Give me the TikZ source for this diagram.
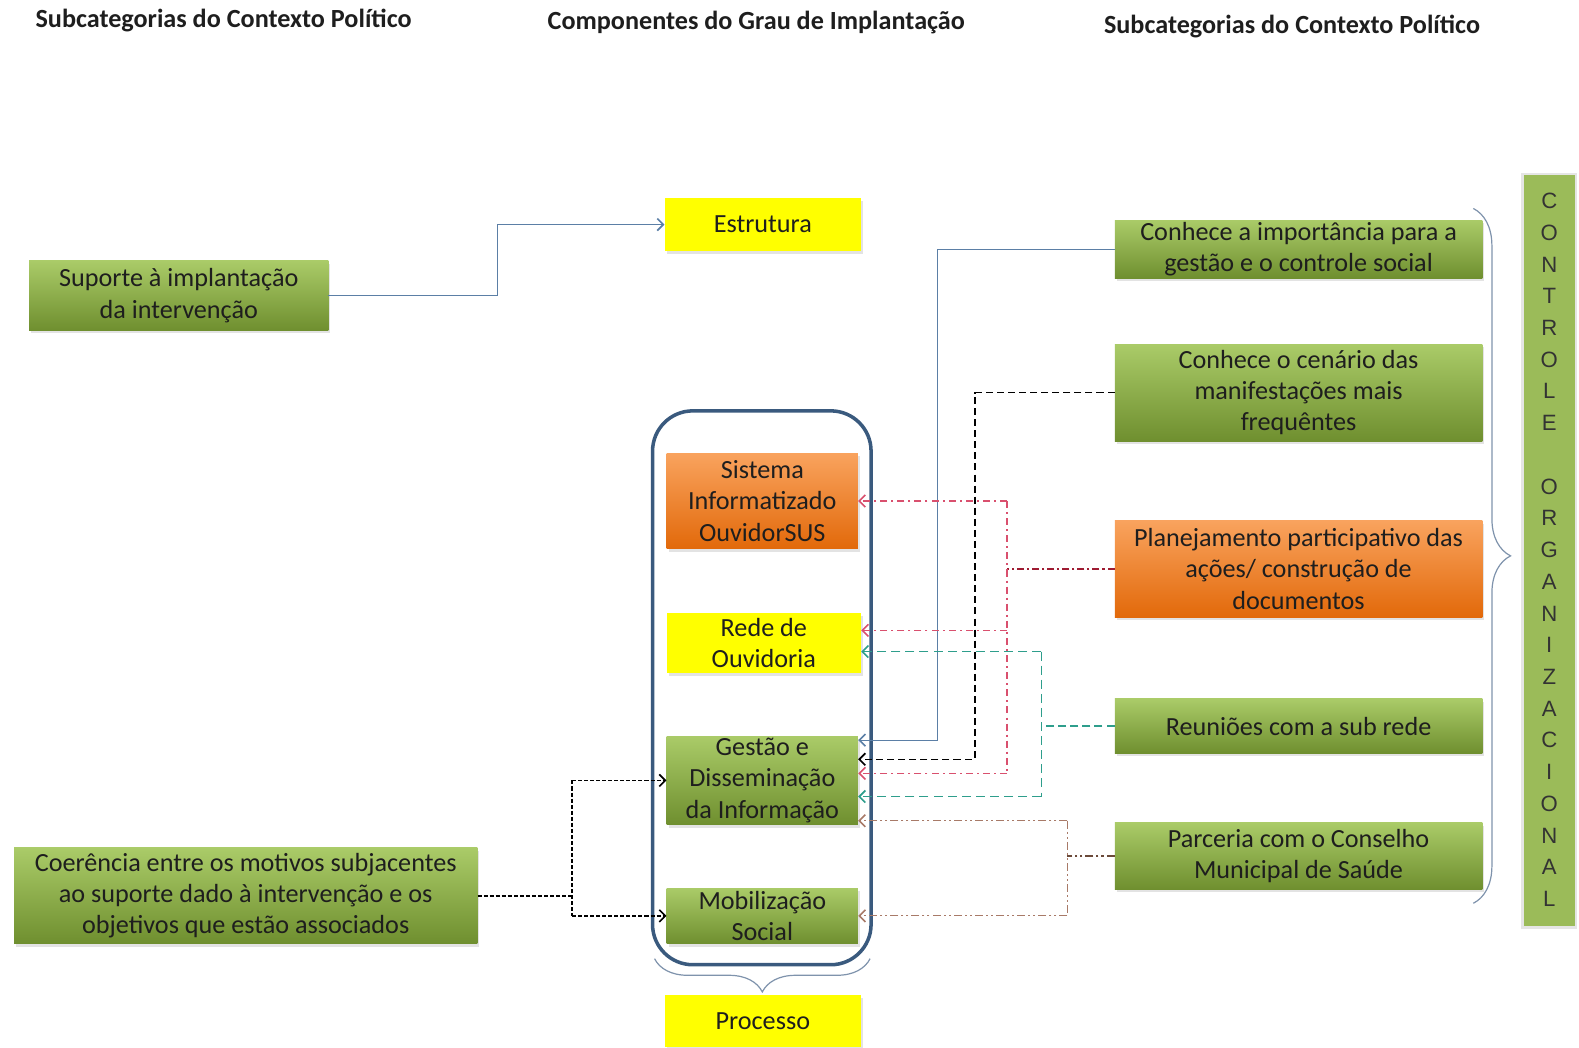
\documentclass[tikz,border=0pt]{standalone}
\usepackage{fontspec}
\setmainfont{Carlito}
\newfontfamily\arialf{Liberation Sans}
\usetikzlibrary{arrows.meta,decorations.pathreplacing,shadows,calc}
\definecolor{gtop}{HTML}{AACB68}
\definecolor{gbot}{HTML}{6F8F2F}
\definecolor{otop}{HTML}{F9A35E}
\definecolor{obot}{HTML}{E2690A}
\definecolor{yel}{HTML}{FFFF00}
\definecolor{txt}{HTML}{1E1E1E}
\definecolor{cont}{HTML}{3A5A7E}
\definecolor{solidc}{HTML}{5B7FA6}
\definecolor{planm}{HTML}{9E1B32}
\definecolor{planb}{HTML}{D9506E}
\definecolor{reunm}{HTML}{2E9E8C}
\definecolor{parcm}{HTML}{6B4A3A}
\definecolor{parcb}{HTML}{A87A68}
\definecolor{bracec}{HTML}{7F93AC}
\definecolor{ctrl}{HTML}{9BBB59}
\begin{document}
\begin{tikzpicture}[x=1pt,y=-1pt,
  box/.style={rectangle, inner sep=2pt, align=center,
    font=\fontsize{26}{31}\selectfont, text=txt,
    drop shadow={opacity=0.22,shadow xshift=2pt,shadow yshift=-3pt}},
  gbox/.style={box, top color=gtop, bottom color=gbot},
  obox/.style={box, top color=otop, bottom color=obot},
  ybox/.style={box, fill=yel, drop shadow={opacity=0}},
  title/.style={font=\bfseries\fontsize{26}{30}\selectfont, text=txt},
  tip/.style={-{Straight Barb[length=6pt,width=12pt,line width=1.6pt]}},
  solidln/.style={draw=solidc, line width=1.2pt},
  blkln/.style={draw=black, line width=1.5pt, dash pattern=on 7pt off 4pt},
  planmain/.style={draw=planm, line width=2.2pt, dash pattern=on 7pt off 3pt on 2pt off 3pt},
  planbr/.style={draw=planb, line width=1.2pt, dash pattern=on 7pt off 4pt on 2pt off 4pt},
  reunmain/.style={draw=reunm, line width=2.5pt, dash pattern=on 8pt off 4pt},
  reunbr/.style={draw=reunm, line width=1.3pt, dash pattern=on 9pt off 5pt},
  parcmain/.style={draw=parcm, line width=1.8pt, dash pattern=on 8pt off 3pt on 2pt off 3pt on 2pt off 3pt},
  parcbr/.style={draw=parcb, line width=1.2pt, dash pattern=on 8pt off 3pt on 2pt off 3pt on 2pt off 3pt},
  coerln/.style={draw=black, line width=1.6pt, dash pattern=on 4pt off 2pt},
  bracest/.style={draw=bracec, line width=1.2pt, decorate}
]
\useasboundingbox (0,0) rectangle (1568,1040);

% titles
\node[title] (t1) at (222,20) {Subcategorias do Contexto Político};
\node[title] (t2) at (751,22) {Componentes do Grau de Implantação};
\node[title] (t3) at (1283,26) {Subcategorias do Contexto Político};

% container
\node[draw=cont, line width=3.5pt, rounded corners=40pt,
  minimum width=217, minimum height=550] (cont) at (756.5,683) {};

% boxes
\node[gbox, minimum width=297, minimum height=69] (sup) at (177.5,293.5) {Suporte à implantação\\da intervenção};
\node[ybox, minimum width=195, minimum height=52] (est) at (757.5,223) {Estrutura};
\node[gbox, minimum width=365, minimum height=57] (cimp) at (1289.5,247.5) {Conhece a importância para a\\gestão e o controle social};
\node[gbox, minimum width=365, minimum height=96] (ccen) at (1289.5,390) {Conhece o cenário das\\manifestações mais\\frequêntes};
\node[obox, minimum width=365, minimum height=96] (plan) at (1289.5,565) {Planejamento participativo das\\ações/ construção de\\documentos};
\node[gbox, minimum width=365, minimum height=54] (reun) at (1289.5,721) {Reuniões com a sub rede};
\node[gbox, minimum width=365, minimum height=66] (parc) at (1289.5,850) {Parceria com o Conselho\\Municipal de Saúde};
\node[obox, minimum width=190, minimum height=95] (sis) at (757,497.5) {Sistema\\Informatizado\\OuvidorSUS};
\node[ybox, minimum width=193, minimum height=59] (rede) at (758.5,638.5) {Rede de\\Ouvidoria};
\node[gbox, minimum width=190, minimum height=84] (gest) at (757,775) {Gestão e\\Disseminação\\da Informação};
\node[gbox, minimum width=190, minimum height=55] (mob) at (757,909.5) {Mobilização\\Social};
\node[gbox, minimum width=460, minimum height=95] (coer) at (244,889.5) {Coerência entre os motivos subjacentes\\ao suporte dado à intervenção e os\\objetivos que estão associados};
\node[ybox, minimum width=195, minimum height=52] (proc) at (757.5,1014) {Processo};

% controle organizacional
\node[fill=ctrl, draw=black!10, line width=2.5pt, minimum width=53, minimum height=748] (ctl) at (1538.5,547) {};
\node[font=\arialf\fontsize{22}{31.5}\selectfont, text=black!80, align=center, inner sep=0pt] (ctltxt) at (1538.5,546)
 {C\\O\\N\\T\\R\\O\\L\\E\\~\\O\\R\\G\\A\\N\\I\\Z\\A\\C\\I\\O\\N\\A\\L};

% braces
\draw[bracest, decoration={brace, amplitude=37pt}] (1463,207) -- (1463,897);
\draw[bracest, decoration={brace, amplitude=33pt}] (864,952) -- (650,952);

% connectors
\draw[solidln, tip] (sup.east) -- (494,293.5) |- (est.west);
\draw[solidln, tip] (cimp.west) -- (931,247.5) |- (gest.east |- 0,735);
\draw[blkln, tip] (ccen.west) -- (968,390) |- (gest.east |- 0,754);

\draw[planmain] (plan.west) -- (1000,565) coordinate (pj);
\draw[planbr] (pj |- sis.east) -- (pj |- 0,768);
\draw[planbr, tip] (pj |- sis.east) -- (sis.east);
\draw[planbr, tip] (pj |- 0,626) -- (rede.east |- 0,626);
\draw[planbr, tip] (pj |- 0,768) -- (gest.east |- 0,768);

\draw[reunmain] (reun.west) -- (1034,721) coordinate (rj);
\draw[reunbr] (rj |- 0,647) -- (rj |- 0,791);
\draw[reunbr, tip] (rj |- 0,647) -- (rede.east |- 0,647);
\draw[reunbr, tip] (rj |- 0,791) -- (gest.east |- 0,791);

\draw[parcmain] (parc.west) -- (1060,850) coordinate (pcj);
\draw[parcbr] (pcj |- 0,815) -- (pcj |- mob.east);
\draw[parcbr, tip] (pcj |- 0,815) -- (gest.east |- 0,815);
\draw[parcbr, tip] (pcj |- mob.east) -- (mob.east);

\draw[coerln] (coer.east) -- (568,889.5) coordinate (cj);
\draw[coerln] (cj |- gest.west) -- (cj |- mob.west);
\draw[coerln, tip] (cj |- gest.west) -- (gest.west);
\draw[coerln, tip] (cj |- mob.west) -- (mob.west);
\end{tikzpicture}
\end{document}
